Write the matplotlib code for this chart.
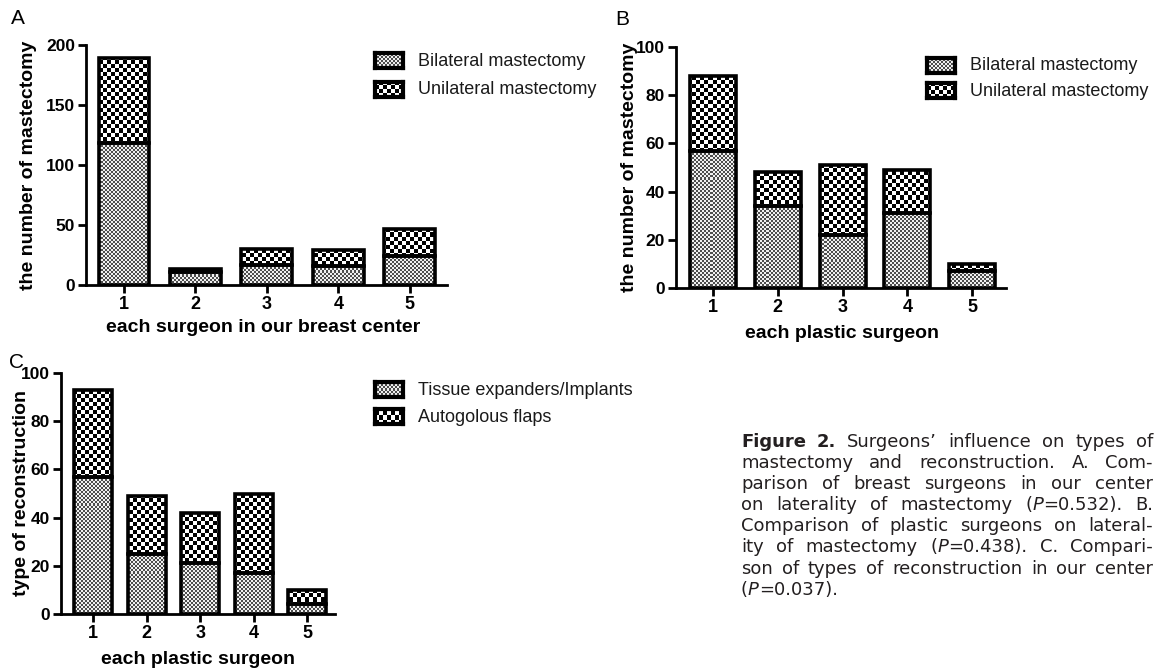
import numpy as np
import matplotlib.pyplot as plt
from matplotlib.colors import ListedColormap

# data
surgeons = ["1", "2", "3", "4", "5"]

# A: breast surgeons, laterality of mastectomy
a_bilateral = [118, 11, 17, 16, 24]
a_unilateral = [71, 2, 13, 13, 23]

# B: plastic surgeons, laterality of mastectomy
b_bilateral = [57, 34, 22, 31, 7]
b_unilateral = [31, 14, 29, 18, 3]

# C: plastic surgeons, type of reconstruction
c_expanders = [57, 25, 21, 17, 4]
c_flaps = [36, 24, 21, 33, 6]

caption = [
    "!Figure !2. Surgeons’ influence on types of",
    "mastectomy and reconstruction. A. Com-",
    "parison of breast surgeons in our center",
    "on laterality of mastectomy (_P_=0.532). B.",
    "Comparison of plastic surgeons on lateral-",
    "ity of mastectomy (_P_=0.438). C. Compari-",
    "son of types of reconstruction in our center",
    "(_P_=0.037).",
]

W, H = 1161, 671
plt.rcParams['font.family'] = ['Liberation Sans', 'DejaVu Sans']
fig = plt.figure(figsize=(W / 100, H / 100), dpi=100)

FINE = (2, '#4d4d4d', '#f0f0f0')
COARSE = (4, '#000000', '#ffffff')


def px_rect(left, top, right, bottom):
    return [left / W, 1 - bottom / H, (right - left) / W, (bottom - top) / H]


def checker(ax, patch, pattern):
    # checkerboard fill clipped to a patch (GraphPad-like pattern)
    cell, c0, c1 = pattern
    bb = ax.get_window_extent()
    w, h = int(round(bb.width)), int(round(bb.height))
    i, j = np.indices((h, w))
    arr = (i // cell + j // cell) % 2
    xl, yl = ax.get_xlim(), ax.get_ylim()
    im = ax.imshow(arr, cmap=ListedColormap([c0, c1]), vmin=0, vmax=1,
                   extent=(xl[0], xl[1], yl[0], yl[1]), origin='lower',
                   aspect='auto', interpolation='nearest', zorder=2)
    if patch is not None:
        im.set_clip_path(patch)
    ax.set_xlim(xl)
    ax.set_ylim(yl)


def legend_entry(left, top, label, pattern):
    lax = fig.add_axes(px_rect(left, top, left + 28, top + 15))
    lax.set_xlim(0, 1)
    lax.set_ylim(0, 1)
    lax.set_xticks([])
    lax.set_yticks([])
    for s in lax.spines.values():
        s.set_linewidth(3)
    checker(lax, None, pattern)
    fig.text((left + 43) / W, 1 - (top + 8) / H, label, fontsize=13,
             ha='left', va='center', color='#1a1a1a')


def panel(rect, lower, upper, ymax, step, xleft):
    ax = fig.add_axes(rect)
    x = np.arange(1, len(surgeons) + 1)
    ax.set_xlim(xleft, 5.52)
    ax.set_ylim(0, ymax)
    b1 = ax.bar(x, lower, 0.71, facecolor='none', edgecolor='black', lw=2.6, zorder=3)
    b2 = ax.bar(x, upper, 0.71, bottom=lower, facecolor='none', edgecolor='black', lw=2.6, zorder=3)
    for p in b1:
        checker(ax, p, FINE)
    for p in b2:
        checker(ax, p, COARSE)
    ax.spines['top'].set_visible(False)
    ax.spines['right'].set_visible(False)
    ax.spines['left'].set_linewidth(2)
    ax.spines['bottom'].set_linewidth(2)
    ax.set_xticks(x, surgeons, fontsize=13, fontweight='bold')
    ax.set_yticks(np.arange(0, ymax + 1, step))
    ax.set_yticklabels([str(v) for v in np.arange(0, ymax + 1, step)], fontsize=12.5, fontweight='bold')
    ax.tick_params(direction='out', length=6, width=2, pad=2)
    return ax


# panel A
panel(px_rect(86, 45, 447, 285), a_bilateral, a_unilateral, 200, 50, 0.47)
fig.text(11 / W, 1 - 24 / H, "A", fontsize=15)
fig.text(29 / W, 1 - 165 / H, "the number of mastectomy", rotation=90, fontsize=14,
         fontweight='bold', ha='center', va='center')
fig.text(263 / W, 1 - 327 / H, "each surgeon in our breast center", fontsize=14,
         fontweight='bold', ha='center', va='center')
legend_entry(375, 53, "Bilateral mastectomy", FINE)
legend_entry(375, 82, "Unilateral mastectomy", COARSE)

# panel B
panel(px_rect(676, 47, 1006, 288), b_bilateral, b_unilateral, 100, 20, 0.43)
fig.text(615 / W, 1 - 25 / H, "B", fontsize=15)
fig.text(630 / W, 1 - 167 / H, "the number of mastectomy", rotation=90, fontsize=14,
         fontweight='bold', ha='center', va='center')
fig.text(842 / W, 1 - 333 / H, "each plastic surgeon", fontsize=14,
         fontweight='bold', ha='center', va='center')
legend_entry(927, 58, "Bilateral mastectomy", FINE)
legend_entry(927, 83, "Unilateral mastectomy", COARSE)

# panel C
panel(px_rect(61, 373, 335, 614), c_expanders, c_flaps, 100, 20, 0.40)
fig.text(9 / W, 1 - 368 / H, "C", fontsize=15)
fig.text(22 / W, 1 - 493 / H, "type of reconstruction", rotation=90, fontsize=14,
         fontweight='bold', ha='center', va='center')
fig.text(198 / W, 1 - 660 / H, "each plastic surgeon", fontsize=14,
         fontweight='bold', ha='center', va='center')
legend_entry(375, 382, "Tissue expanders/Implants", FINE)
legend_entry(375, 409, "Autogolous flaps", COARSE)

# caption, justified word by word
renderer = fig.canvas.get_renderer()
cap_font = dict(fontsize=13, color='#231f20', family=['DejaVu Sans'])
L, R = 741, 1153
base0, lead = 447, 21.1


def segments(word):
    if word.startswith('!'):
        return [(word[1:], 'bold')]
    parts = word.split('_')
    return [(p, 'italic' if k % 2 else 'normal') for k, p in enumerate(parts) if p]


def seg_style(style):
    if style == 'bold':
        return dict(fontweight='bold')
    if style == 'italic':
        return dict(fontstyle='italic')
    return {}


def width(text, style):
    t = fig.text(0, 0, text, **cap_font, **seg_style(style))
    w = t.get_window_extent(renderer).width
    t.remove()
    return w


space = width("a a", 'normal') - width("aa", 'normal')
for n, line in enumerate(caption):
    words = [segments(w) for w in line.split(' ')]
    widths = [[width(s, st) for s, st in segs] for segs in words]
    total = sum(sum(ws) for ws in widths)
    if n < len(caption) - 1:
        gap = (R - L - total) / (len(words) - 1)
    else:
        gap = space
    x = L
    y = 1 - (base0 + n * lead) / H
    for segs, ws in zip(words, widths):
        for (s, st), w in zip(segs, ws):
            fig.text(x / W, y, s, ha='left', va='baseline', **cap_font, **seg_style(st))
            x += w
        x += gap

fig.savefig("out.png", dpi=100, facecolor='white')
